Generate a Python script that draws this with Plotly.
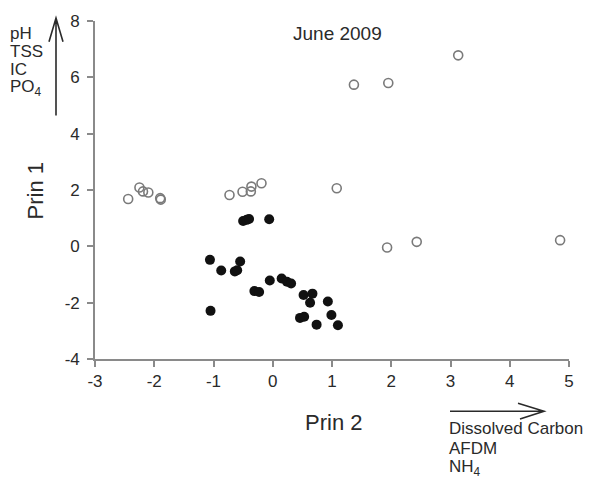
import plotly.graph_objects as go

# Data
open_x = [-2.44, -2.25, -2.19, -2.10, -1.90, -1.89, -0.73, -0.51, -0.37, -0.36, -0.19,
          1.08, 1.37, 1.95, 3.13, 1.93, 2.43, 4.85]
open_y = [1.68, 2.09, 1.95, 1.91, 1.71, 1.66, 1.82, 1.94, 1.95, 2.12, 2.24,
          2.06, 5.74, 5.80, 6.78, -0.04, 0.16, 0.22]

filled_x = [-0.50, -0.44, -0.40, -0.06, -1.06, -0.87, -0.55, -0.64, -0.60, -1.05,
            -0.31, -0.23, -0.05, 0.15, 0.24, 0.31, 0.52, 0.67, 0.63, 0.93,
            0.46, 0.53, 0.74, 0.99, 1.10]
filled_y = [0.90, 0.94, 0.97, 0.96, -0.48, -0.86, -0.54, -0.89, -0.85, -2.29,
            -1.59, -1.62, -1.21, -1.14, -1.26, -1.32, -1.73, -1.68, -2.00, -1.96,
            -2.54, -2.50, -2.78, -2.44, -2.80]

x_ticks = [-3, -2, -1, 0, 1, 2, 3, 4, 5]
x_tick_text = ["-3", "-2", "-1", "0", "1", "2", "3", "4", "5"]
y_ticks = [-4, -2, 0, 2, 4, 6, 8]
y_tick_text = ["-4", "-2", "0", "2", "4", "6", "8"]

up_labels = ["pH", "TSS", "IC", "PO<sub>4</sub>"]
right_labels = ["Dissolved Carbon", "AFDM", "NH<sub>4</sub>"]

FONT = "Liberation Sans, Arial, sans-serif"
AX = "#8a8a8a"
TXT = "#2a2a2a"

W, H = 596, 481
L, R, T, B = 95, 27, 16, 122
PW, PH = W - L - R, H - T - B


def px(xp):
    return (xp - L) / PW


def py(yp):
    return (H - B - yp) / PH


fig = go.Figure()
fig.add_trace(go.Scatter(
    x=open_x, y=open_y, mode="markers", cliponaxis=False,
    marker=dict(symbol="circle-open", size=9, color="#7a7a7a", line=dict(width=1.6)),
    showlegend=False))
fig.add_trace(go.Scatter(
    x=filled_x, y=filled_y, mode="markers", cliponaxis=False,
    marker=dict(symbol="circle", size=10, color="#111111", line=dict(width=0)),
    showlegend=False))

axis_common = dict(showgrid=False, zeroline=False, showline=True, linecolor=AX,
                   linewidth=1.6, ticks="outside", tickcolor=AX, ticklen=6, tickwidth=1.5,
                   tickfont=dict(family=FONT, size=17, color=TXT))
fig.update_xaxes(range=[-3, 5], tickvals=x_ticks, ticktext=x_tick_text, **axis_common)
fig.update_yaxes(range=[-4, 8], tickvals=y_ticks, ticktext=y_tick_text,
                 ticklabelstandoff=4, **axis_common)

shapes = [
    # up arrow
    dict(type="path", xref="paper", yref="paper",
         path=f"M{px(56)},{py(112)} L{px(56)},{py(13)} M{px(49)},{py(37)} L{px(56)},{py(13)} L{px(63)},{py(37)}",
         line=dict(color=TXT, width=1.6)),
    # right arrow
    dict(type="path", xref="paper", yref="paper",
         path=f"M{px(450)},{py(412)} L{px(544)},{py(412)} M{px(518)},{py(404)} L{px(544)},{py(412)} L{px(520)},{py(420)}",
         line=dict(color=TXT, width=1.6)),
]

annotations = [
    dict(text="June 2009", x=px(337), y=py(29), xref="paper", yref="paper",
         xanchor="center", yanchor="middle",
         showarrow=False, font=dict(family=FONT, size=19, color=TXT)),
    dict(text="Prin 2", x=px(333), y=py(423), xref="paper", yref="paper",
         xanchor="center", yanchor="middle",
         showarrow=False, font=dict(family=FONT, size=22, color=TXT)),
    dict(text="Prin 1", x=px(35), y=py(188), xref="paper", yref="paper", textangle=-90,
         xanchor="center", yanchor="middle",
         showarrow=False, font=dict(family=FONT, size=22, color=TXT)),
]
for i, t in enumerate(up_labels):
    annotations.append(dict(text=t, x=px(8), y=py(29 + 18.3 * i), xref="paper", yref="paper",
                            xanchor="left", yanchor="middle", showarrow=False,
                            font=dict(family=FONT, size=17, color=TXT)))
for i, t in enumerate(right_labels):
    annotations.append(dict(text=t, x=px(447), y=py(430 + 20 * i), xref="paper", yref="paper",
                            xanchor="left", yanchor="middle", showarrow=False,
                            font=dict(family=FONT, size=17, color=TXT)))

fig.update_layout(
    width=W, height=H, margin=dict(l=L, r=R, t=T, b=B),
    paper_bgcolor="white", plot_bgcolor="white",
    shapes=shapes, annotations=annotations,
    font=dict(family=FONT),
)

fig.write_html("out.html")
